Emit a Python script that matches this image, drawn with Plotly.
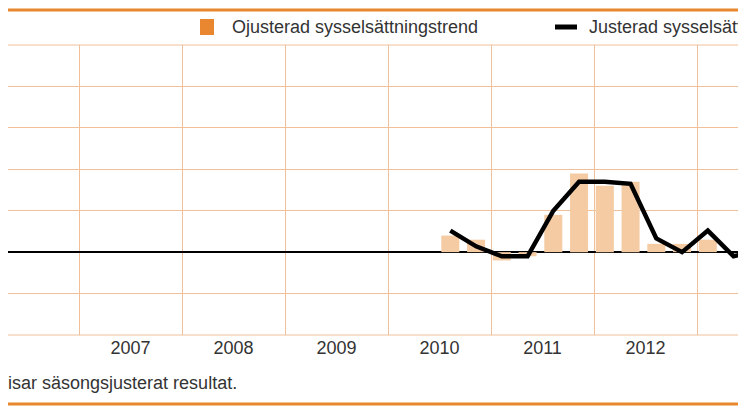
import plotly.graph_objects as go

years = list(range(2006, 2015))
year_labels = [str(y) for y in years]

# quarters from 2010 Q3 to 2013 Q1
bar_year = [2010, 2010, 2011, 2011, 2011, 2011, 2012, 2012, 2012, 2012, 2013]
bar_q = [3, 4, 1, 2, 3, 4, 1, 2, 3, 4, 1]
ojusterad = [0.4, 0.3, -0.2, -0.1, 0.9, 1.9, 1.6, 1.7, 0.2, 0.2, 0.3]

line_year = [2010, 2010, 2011, 2011, 2011, 2011, 2012, 2012, 2012, 2012, 2013, 2013, 2013]
line_q = [3, 4, 1, 2, 3, 4, 1, 2, 3, 4, 1, 2, 3]
justerad = [0.52, 0.14, -0.1, -0.1, 1.0, 1.7, 1.7, 1.65, 0.33, 0.0, 0.52, -0.1, 0.05]

ORANGE = "#e8872f"
GRID = "#f0c09a"
FONT = "Liberation Sans"
OFF = 8  # page offset

def px(x):
    return (x - OFF) / 746

bx = [y + (q - 0.5) / 4 - 0.02 for y, q in zip(bar_year, bar_q)]
lx = [y + (q - 0.5) / 4 - 0.02 for y, q in zip(line_year, line_q)]

fig = go.Figure()
fig.add_trace(go.Bar(x=bx, y=ojusterad, width=0.175, marker=dict(color="#f5cba3", line=dict(width=0)),
                     name="Ojusterad sysselsättningstrend"))
fig.add_trace(go.Scatter(x=lx, y=justerad, mode="lines", line=dict(color="black", width=4.5),
                         name="Justerad sysselsättningstrend"))

x0 = 2006 + (24 + OFF) / 103
x1 = x0 + 746 / 103
fig.update_layout(
    width=746, height=419, margin=dict(l=0, r=0, t=45 - OFF, b=84 + OFF),
    paper_bgcolor="white", plot_bgcolor="white", showlegend=False,
    font=dict(family=FONT, size=18, color="#333333"),
    xaxis=dict(range=[x0, x1], tickvals=[y + 0.5 for y in years], ticktext=year_labels,
               showgrid=False, ticks="", zeroline=False,
               minor=dict(tickvals=years, showgrid=True, gridcolor=GRID, gridwidth=1)),
    yaxis=dict(range=[-2, 5], dtick=1, showgrid=True, gridcolor=GRID, gridwidth=1,
               showticklabels=False, zeroline=True, zerolinecolor="black", zerolinewidth=1.5),
    shapes=[
        dict(type="line", xref="paper", yref="paper", x0=0, x1=1, y0=1.0, y1=1.0, line=dict(color=GRID, width=1)),
        dict(type="line", xref="paper", yref="paper", x0=0, x1=1, y0=0, y1=0, line=dict(color=GRID, width=1)),
        dict(type="line", xref="paper", yref="paper", x0=0, x1=1, y0=(335 - 10) / 290, y1=(335 - 10) / 290,
             line=dict(color=ORANGE, width=3)),
        dict(type="line", xref="paper", yref="paper", x0=0, x1=1, y0=(335 - 404) / 290, y1=(335 - 404) / 290,
             line=dict(color=ORANGE, width=3)),
        dict(type="rect", xref="paper", yref="paper", x0=px(200), x1=px(214),
             y0=(335 - 35) / 290, y1=(335 - 19) / 290, fillcolor=ORANGE, line=dict(width=0)),
        dict(type="line", xref="paper", yref="paper", x0=px(555), x1=px(577),
             y0=(335 - 27) / 290, y1=(335 - 27) / 290, line=dict(color="black", width=5)),
    ],
    annotations=[
        dict(text="Ojusterad sysselsättningstrend", xref="paper", yref="paper", x=px(230),
             y=(335 - 27) / 290, xanchor="left", yanchor="middle", showarrow=False),
        dict(text="Justerad sysselsättningstrend", xref="paper", yref="paper", x=px(587),
             y=(335 - 27) / 290, xanchor="left", yanchor="middle", showarrow=False),
        dict(text="Linjen visar säsongsjusterat resultat.", xref="paper", yref="paper", x=px(239),
             y=(335 - 383) / 290, xanchor="right", yanchor="middle", showarrow=False),
    ],
)
fig.write_html("out.html")
